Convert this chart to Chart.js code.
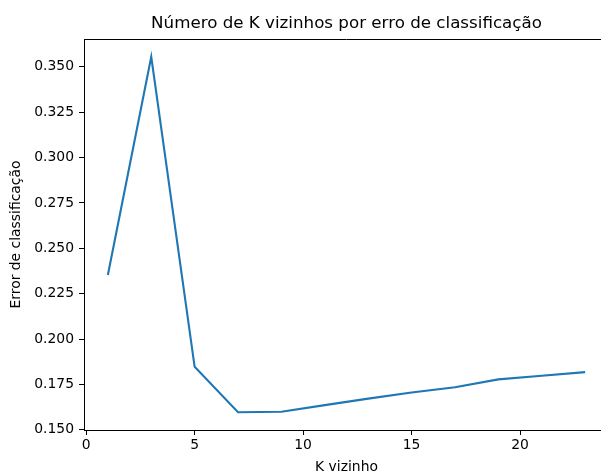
<!DOCTYPE html>
<html>
<head>
<meta charset="utf-8">
<script src="https://cdn.jsdelivr.net/npm/chart.js@4/dist/chart.umd.min.js"></script>
<style>
  html, body { margin: 0; padding: 0; background: #fff; overflow: hidden; }
  #wrap { width: 601px; height: 474px; overflow: hidden; position: relative; }
  canvas { position: absolute; left: 0; top: 0; }
</style>
</head>
<body>
<div id="wrap"><canvas id="c" width="612" height="474"></canvas></div>
<script>
// Number of neighbours K and the classification error for each
const kValues = [1, 3, 5, 7, 9, 11, 13, 15, 17, 19, 21, 23];
const errorRates = [0.2353, 0.3555, 0.1847, 0.1597, 0.1600, 0.1636, 0.1672, 0.1706, 0.1735, 0.1778, 0.1798, 0.1818];
const xTicks = [0, 5, 10, 15, 20];
const yTicks = [0.150, 0.175, 0.200, 0.225, 0.250, 0.275, 0.300, 0.325, 0.350];

const chartTitle = 'Número de K vizinhos por erro de classificação';
const xLabel = 'K vizinho';
const yLabel = 'Error de classificação';

const FONT = 'DejaVu Sans';

// axis limits with a 5% margin around the data
const xSpan = Math.max(...kValues) - Math.min(...kValues);
const ySpan = Math.max(...errorRates) - Math.min(...errorRates);
const xMin = Math.min(...kValues) - 0.05 * xSpan;
const xMax = Math.max(...kValues) + 0.05 * xSpan;
const yMin = Math.min(...errorRates) - 0.05 * ySpan;
const yMax = Math.max(...errorRates) + 0.05 * ySpan;

// top edge of the plot frame plus the centred title
const framePlugin = {
  id: 'frame',
  afterDraw(chart) {
    const { ctx, chartArea: a } = chart;
    ctx.save();
    ctx.strokeStyle = '#000';
    ctx.lineWidth = 1;
    ctx.beginPath();
    ctx.moveTo(a.left, Math.round(a.top) + 0.5);
    ctx.lineTo(a.right, Math.round(a.top) + 0.5);
    ctx.stroke();
    ctx.fillStyle = '#000';
    ctx.font = '16.7px "' + FONT + '"';
    ctx.textAlign = 'center';
    ctx.textBaseline = 'alphabetic';
    ctx.fillText(chartTitle, (a.left + a.right) / 2, 28);
    ctx.restore();
  }
};

new Chart(document.getElementById('c'), {
  type: 'line',
  data: {
    datasets: [{
      data: kValues.map((k, i) => ({ x: k, y: errorRates[i] })),
      borderColor: '#1f77b4',
      borderWidth: 2.1,
      pointRadius: 0,
      tension: 0,
      fill: false
    }]
  },
  options: {
    responsive: false,
    animation: false,
    devicePixelRatio: 1,
    layout: { padding: { top: 39, right: 3, bottom: 0, left: 0 } },
    plugins: { legend: { display: false }, tooltip: { enabled: false } },
    scales: {
      x: {
        type: 'linear',
        min: xMin,
        max: xMax,
        afterBuildTicks: s => { s.ticks = xTicks.map(v => ({ value: v })); },
        afterFit: s => { s.height = 44; },
        ticks: {
          color: '#000',
          font: { family: FONT, size: 13.9 },
          padding: 2,
          maxRotation: 0,
          callback: v => String(v)
        },
        grid: { display: true, drawOnChartArea: false, drawTicks: true, tickLength: 5, color: '#000', lineWidth: 1 },
        border: { display: true, color: '#000', width: 1 },
        title: {
          display: true,
          text: xLabel,
          color: '#000',
          font: { family: FONT, size: 13.9, lineHeight: 1.0 },
          padding: { top: 0, bottom: 0 }
        }
      },
      y: {
        type: 'linear',
        min: yMin,
        max: yMax,
        afterBuildTicks: s => { s.ticks = yTicks.map(v => ({ value: v })); },
        afterFit: s => { s.width = 84; },
        ticks: {
          color: '#000',
          font: { family: FONT, size: 13.9 },
          padding: 5,
          callback: v => Number(v).toFixed(3)
        },
        grid: { display: true, drawOnChartArea: false, drawTicks: true, tickLength: 5, color: '#000', lineWidth: 1 },
        border: { display: true, color: '#000', width: 1 },
        title: {
          display: true,
          text: yLabel,
          color: '#000',
          font: { family: FONT, size: 13.9, lineHeight: 1.2 },
          padding: { top: 8, bottom: 0 }
        }
      }
    }
  },
  plugins: [framePlugin]
});
</script>
</body>
</html>
